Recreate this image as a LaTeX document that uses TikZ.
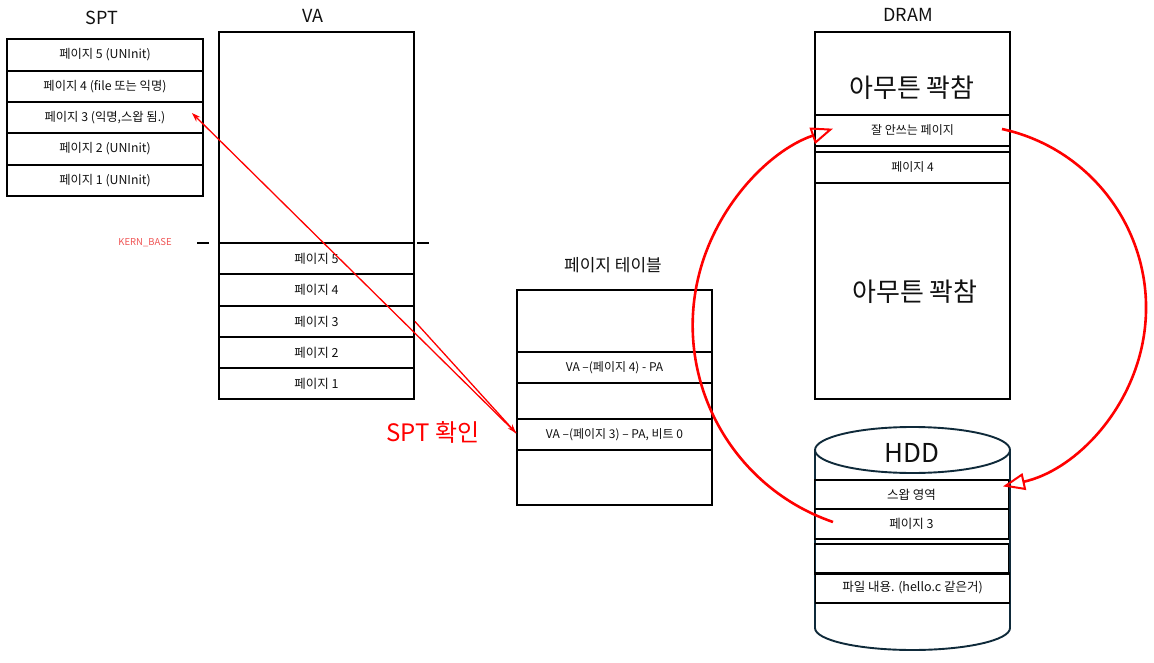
\documentclass[tikz,border=0pt]{standalone}
\usepackage{fontspec}
\setmainfont{Noto Sans CJK KR}
\usetikzlibrary{arrows.meta,calc}
\definecolor{ink}{HTML}{111111}
\definecolor{redl}{HTML}{FF0000}
\definecolor{kern}{HTML}{F05555}
\definecolor{cyl}{HTML}{0F2A3A}
\newcommand\fsz[1]{\fontsize{#1}{#1}\selectfont}
\begin{document}
\begin{tikzpicture}[x=1pt,y=-1pt,
  box/.style={draw=black, line width=1.9pt, inner sep=0pt, text=ink, anchor=center},
  title/.style={text=ink, font=\fsz{18}},
  redarrow/.style={draw=redl, line width=1.3pt, -{Stealth[length=9pt,width=6pt]}},
  redarc/.style={draw=redl, line width=2.6pt, -{Triangle[open, length=22pt, width=17pt, line width=2pt]}}]
\useasboundingbox (0,0) rectangle (1154,663);
\fill[white] (0,0) rectangle (1154,663);

% ---------- SPT ----------
\node[title] (sptt) at (102,18) {SPT};
\begin{scope}[every node/.style={box, minimum width=196pt, minimum height=31.3pt, font=\fsz{12.3}}]
\node (spt5) at (105,55) {페이지 5 (UNInit)};
\node (spt4) at (105,86.5) {페이지 4 (file 또는 익명)};
\node (spt3) at (105,117.5) {페이지 3 (익명,스왑 됨.)};
\node (spt2) at (105,149) {페이지 2 (UNInit)};
\node (spt1) at (105,180.5) {페이지 1 (UNInit)};
\end{scope}

% ---------- VA ----------
\node[title] (vat) at (313,16) {VA};
\node[box, minimum width=195pt, minimum height=367pt] (va) at (316.5,215.5) {};
\draw[black, line width=1.9pt, dash pattern=on 12pt off 10pt] (197,243) -- (430,243);
\node[text=kern, font=\fsz{9.5}] (kb) at (145,243) {KERN\_BASE};
\begin{scope}[every node/.style={box, minimum width=195pt, minimum height=31.2pt, font=\fsz{12.5}}]
\node (va5) at (316.5,258.5) {페이지 5};
\node (va4) at (316.5,290) {페이지 4};
\node (va3) at (316.5,321.5) {페이지 3};
\node (va2) at (316.5,352.5) {페이지 2};
\node (va1) at (316.5,383.5) {페이지 1};
\end{scope}

% ---------- page table ----------
\node[title, font=\fsz{17}] (ptt) at (613,265) {페이지 테이블};
\node[box, minimum width=195pt, minimum height=215pt] (pt) at (614.5,397.5) {};
\node[box, minimum width=195pt, minimum height=31pt, font=\fsz{12}] (pt4) at (614.5,367.5) {VA –(페이지 4) - PA};
\node[box, minimum width=195pt, minimum height=31pt, font=\fsz{12}] (pt3) at (614.5,434.5) {VA –(페이지 3) – PA, 비트 0};

% ---------- DRAM ----------
\node[title] (dramt) at (908,15) {DRAM};
\node[box, minimum width=195pt, minimum height=367pt] (dram) at (912.5,215.5) {};
\node[text=ink, font=\fsz{26}] (full1) at (912,88) {아무튼 꽉참};
\node[box, minimum width=195pt, minimum height=31pt, font=\fsz{12}] (dram1) at (912.5,130.5) {잘 안쓰는 페이지};
\node[box, minimum width=195pt, minimum height=31pt, font=\fsz{12}] (dram4) at (912.5,167.5) {페이지 4};
\node[text=ink, font=\fsz{26}] (full2) at (915,292) {아무튼 꽉참};

% ---------- HDD ----------
\draw[cyl, line width=1.9pt] (815,450) -- (815,628) arc[start angle=180, end angle=360, x radius=97.5pt, y radius=22pt] -- (1010,450);
\draw[cyl, line width=1.9pt] (912.5,450) ellipse [x radius=97.5pt, y radius=23pt];
\node[text=ink, font=\fsz{26}] (hddt) at (912,453) {HDD};
\begin{scope}[every node/.style={box, minimum width=194pt, minimum height=29.5pt, font=\fsz{12.5}}]
\node (hddsw) at (911.5,494.5) {스왑 영역};
\node (hdd3) at (911.5,524) {페이지 3};
\node (hdde) at (911.5,559) {};
\node (hddf) at (912.5,588) {파일 내용. (hello.c 같은거)};
\end{scope}

% ---------- red connectors ----------
\coordinate (sptin) at ($(spt3.east)+(-12,-4.5)$);
\draw[redarrow] (va3.east) -- ($(pt3.west)+(0,-1.5)$);
\draw[redarrow] ($(pt3.west)+(0,-1.5)$) -- (sptin);
\node[text=redl, font=\fsz{24}] (chk) at (433,432) {SPT 확인};

\coordinate (arcA) at (833,522);
\draw[redarc] (arcA) arc[start angle=251, end angle=109, radius=208pt];
\coordinate (arcB) at (1002,129);
\draw[redarc] (arcB) arc[start angle=77.7, end angle=-77.4, radius=183pt];
\end{tikzpicture}
\end{document}
